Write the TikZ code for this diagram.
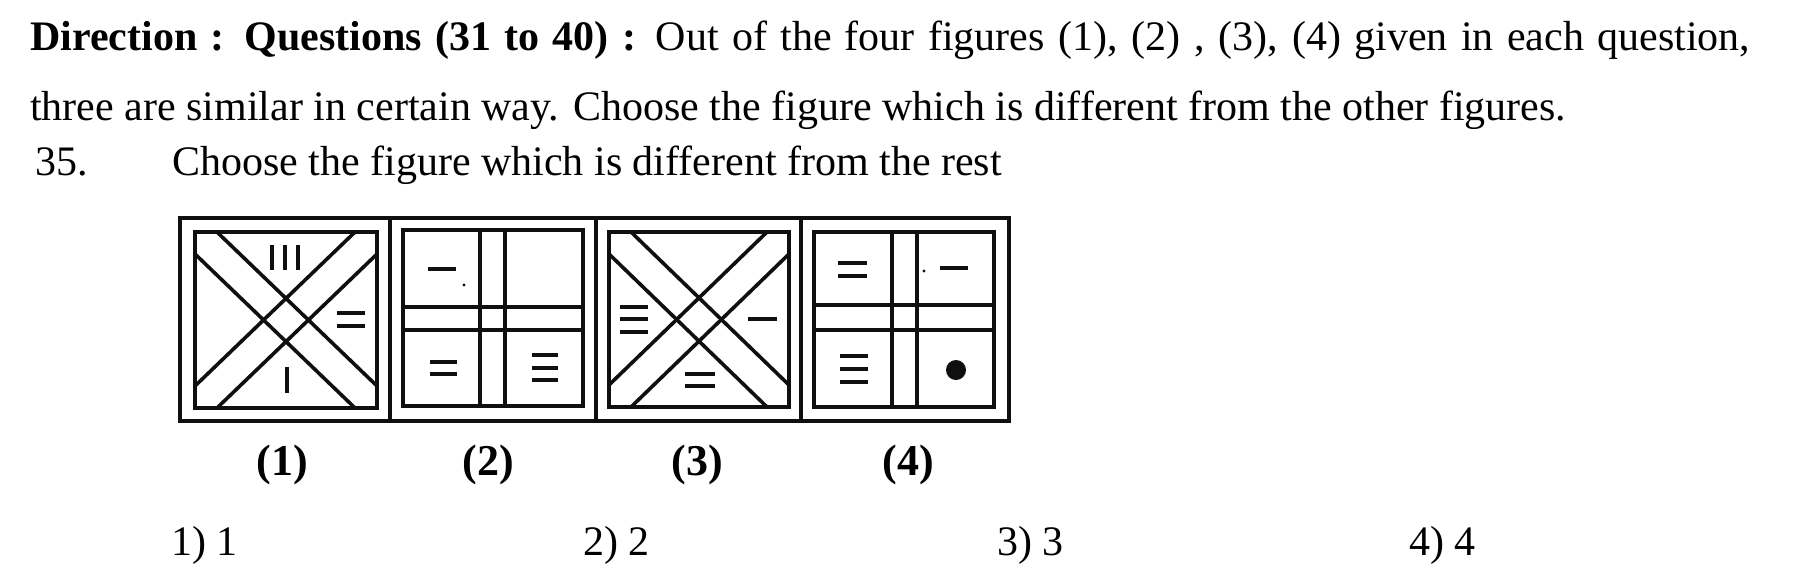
\documentclass[tikz,border=0pt]{standalone}
\usepackage{fontspec}
\setmainfont{Liberation Serif}
\usepackage{xcolor}

\begin{document}
\begin{tikzpicture}[x=1pt, y=-1pt]

	\definecolor{my_ink}{RGB}{15,15,15}

\tikzstyle{txt} = [inner sep=0pt, font=\fontsize{42}{48}\selectfont]
\tikzstyle{figlabel} = [inner sep=0pt, font=\fontsize{44}{50}\selectfont\bfseries]
\tikzstyle{frame} = [draw=my_ink, line width=3.6pt]
\tikzstyle{sign} = [draw=my_ink, line width=4.2pt]

	\useasboundingbox (0,0) rectangle (1794,566);

	% heading
	\node [txt, anchor=base west] (head_one) at (30,50) {\makebox[1720pt][s]{\textbf{Direction : Questions (31 to 40) :} Out of the four figures (1), (2) , (3), (4) given in each question,}};
	\node [txt, anchor=base west] (head_two) at (30,120) {three are similar in certain way. Choose the figure which is different from the other figures.};
	\node [txt, anchor=base west] (q_num) at (35,175) {35.};
	\node [txt, anchor=base west] (q_text) at (172,175) {Choose the figure which is different from the rest};

	% outer frame
	\draw [frame] (180,218) rectangle (1009,421);
	\draw [frame] (390,218) -- (390,421);
	\draw [frame] (596,218) -- (596,421);
	\draw [frame] (801,218) -- (801,421);

	% figure 1
	\draw [frame] (195,232) rectangle (377,408);
	\draw [frame] (217,232) -- (377,386);
	\draw [frame] (195,254) -- (355,408);
	\draw [frame] (355,232) -- (195,386);
	\draw [frame] (377,254) -- (217,408);
	\draw [sign] (272,245) -- (272,270);
	\draw [sign] (285,245) -- (285,270);
	\draw [sign] (298,245) -- (298,270);
	\draw [sign] (337,313) -- (365,313);
	\draw [sign] (337,326) -- (365,326);
	\draw [sign] (287,367) -- (287,393);

	% figure 2
	\draw [frame] (403,230) rectangle (583,406);
	\draw [frame] (480,230) -- (480,406);
	\draw [frame] (505,230) -- (505,406);
	\draw [frame] (403,307) -- (583,307);
	\draw [frame] (403,330) -- (583,330);
	\draw [sign] (428,269) -- (456,269);
	\fill [my_ink] (464,285) circle (1.6);
	\draw [sign] (430,362) -- (457,362);
	\draw [sign] (430,374) -- (457,374);
	\draw [sign] (532,355) -- (558,355);
	\draw [sign] (532,368) -- (558,368);
	\draw [sign] (532,380) -- (558,380);

	% figure 3
	\draw [frame] (609,232) rectangle (789,407);
	\draw [frame] (631,232) -- (789,385);
	\draw [frame] (609,254) -- (767,407);
	\draw [frame] (767,232) -- (609,385);
	\draw [frame] (789,254) -- (631,407);
	\draw [sign] (620,307) -- (648,307);
	\draw [sign] (620,319) -- (648,319);
	\draw [sign] (620,332) -- (648,332);
	\draw [sign] (748,319) -- (777,319);
	\draw [sign] (685,374) -- (715,374);
	\draw [sign] (685,386) -- (715,386);

	% figure 4
	\draw [frame] (814,232) rectangle (994,407);
	\draw [frame] (892,232) -- (892,407);
	\draw [frame] (917,232) -- (917,407);
	\draw [frame] (814,305) -- (994,305);
	\draw [frame] (814,330) -- (994,330);
	\draw [sign] (838,263) -- (867,263);
	\draw [sign] (838,276) -- (867,276);
	\fill [my_ink] (924,271) circle (1.6);
	\draw [sign] (940,268) -- (968,268);
	\draw [sign] (840,356) -- (868,356);
	\draw [sign] (840,369) -- (868,369);
	\draw [sign] (840,382) -- (868,382);
	\fill [my_ink] (956,370) circle (10);

	% figure labels
	\node [figlabel, anchor=base] (lab_one) at (282,475) {(1)};
	\node [figlabel, anchor=base] (lab_two) at (488,475) {(2)};
	\node [figlabel, anchor=base] (lab_three) at (697,475) {(3)};
	\node [figlabel, anchor=base] (lab_four) at (908,475) {(4)};

	% answer options
	\node [txt, anchor=base west] (ans_one) at (171,555) {1) 1};
	\node [txt, anchor=base west] (ans_two) at (583,555) {2) 2};
	\node [txt, anchor=base west] (ans_three) at (997,555) {3) 3};
	\node [txt, anchor=base west] (ans_four) at (1409,555) {4) 4};

\end{tikzpicture}
\end{document}
